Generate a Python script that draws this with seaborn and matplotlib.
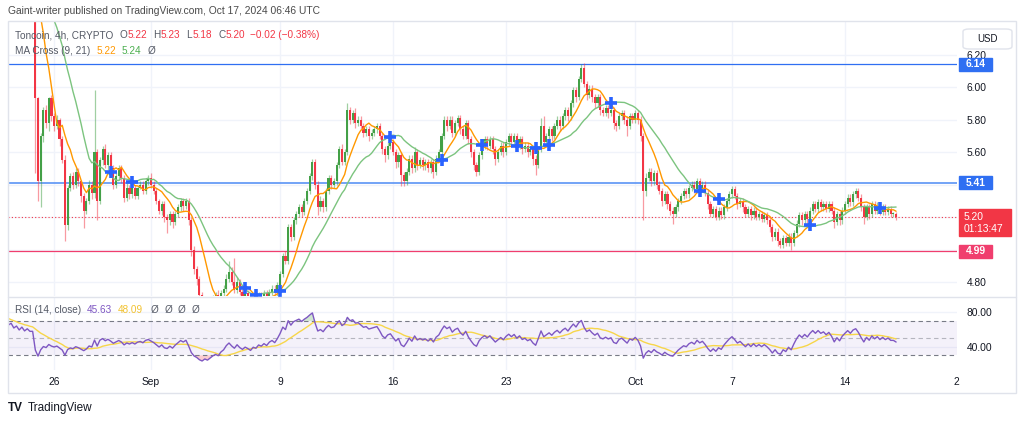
import numpy as np
import pandas as pd
import matplotlib
matplotlib.use("Agg")
import matplotlib.pyplot as plt
import matplotlib.transforms as mtransforms
from matplotlib.patches import Rectangle, FancyBboxPatch
import seaborn as sns

# ---- data: 4h candles (close, upper wick and lower wick in cents) ----
first_open = 6.52
# Aug 19 20:00 -> Aug 24 16:00 (above the visible range)
warm_close = [6.50, 6.62, 6.48, 6.60, 6.70, 6.56, 6.66, 6.78, 6.62, 6.72, 6.82, 6.66,
              6.76, 6.64, 6.80, 6.68, 6.82, 6.70, 6.84, 6.72, 6.80, 6.90, 6.76, 6.86,
              6.74, 6.88, 6.76, 6.86, 6.78, 6.78]
warm_up = [3, 2, 4, 2, 3, 2, 2, 3, 2, 3, 2, 4, 3, 2, 2, 3, 2, 3, 2, 3, 2, 2, 3, 2, 3, 2, 3, 2, 2, 3]
warm_dn = [2, 3, 2, 3, 2, 2, 3, 2, 2, 3, 2, 2, 3, 2, 3, 2, 2, 3, 2, 2, 3, 2, 2, 3, 2, 3, 2, 2, 3, 2]

# Aug 24 20:00 -> Aug 31 20:00
aug_close = [5.93,
             5.42, 5.70, 5.86, 5.78, 5.93, 5.82,
             5.76, 5.80, 5.68, 5.55, 5.15, 5.38,
             5.45, 5.40, 5.48, 5.42, 5.33, 5.24,
             5.30, 5.40, 5.35, 5.60, 5.30, 5.55,
             5.62, 5.52, 5.58, 5.50, 5.40, 5.45,
             5.50, 5.44, 5.32, 5.38, 5.34, 5.38,
             5.33, 5.38, 5.40, 5.36, 5.42, 5.44]
aug_up = [2,
          1, 2, 2, 3, 1, 2,
          2, 3, 1, 2, 3, 2,
          2, 3, 2, 2, 1, 2,
          2, 3, 2, 38, 2, 2,
          2, 3, 2, 2, 2, 3,
          2, 2, 2, 3, 2, 2,
          2, 1, 2, 2, 2, 2]
aug_dn = [46,
          12, 16, 4, 3, 5, 3,
          3, 2, 4, 2, 10, 3,
          2, 3, 2, 3, 4, 11,
          2, 2, 4, 3, 12, 2,
          3, 2, 3, 2, 3, 2,
          2, 3, 3, 2, 3, 2,
          2, 2, 1, 2, 2, 2]

sep_close = [5.40, 5.36, 5.30, 5.24, 5.28, 5.20,
             5.18, 5.22, 5.17, 5.22, 5.26, 5.30,
             5.27, 5.30, 5.18, 5.00, 4.88, 4.82,
             4.72, 4.66, 4.69, 4.64, 4.67, 4.70,
             4.72, 4.68, 4.73, 4.76, 4.82, 4.86,
             4.80, 4.75, 4.80, 4.74, 4.70, 4.73,
             4.70, 4.66, 4.70, 4.68, 4.72, 4.70,
             4.73, 4.70, 4.74, 4.76, 4.73, 4.78,
             4.85, 4.96, 4.93, 5.14, 5.08, 5.18,
             5.22, 5.26, 5.23, 5.30, 5.36, 5.45,
             5.54, 5.40, 5.26, 5.30, 5.26, 5.36,
             5.44, 5.40, 5.42, 5.52, 5.62, 5.54,
             5.60, 5.86, 5.80, 5.84, 5.78, 5.80,
             5.76, 5.72, 5.74, 5.70, 5.72, 5.74,
             5.76, 5.70, 5.62, 5.58, 5.64, 5.66,
             5.60, 5.54, 5.58, 5.46, 5.42, 5.48,
             5.56, 5.50, 5.60, 5.52, 5.55, 5.52,
             5.54, 5.50, 5.54, 5.48, 5.56, 5.60,
             5.70, 5.80, 5.76, 5.80, 5.72, 5.78,
             5.81, 5.74, 5.70, 5.78, 5.68, 5.60,
             5.52, 5.48, 5.58, 5.64, 5.68, 5.64,
             5.68, 5.62, 5.56, 5.60, 5.64, 5.60,
             5.66, 5.70, 5.66, 5.70, 5.64, 5.68,
             5.62, 5.64, 5.60, 5.62, 5.56, 5.52,
             5.62, 5.76, 5.66, 5.70, 5.74, 5.70,
             5.76, 5.80, 5.76, 5.82, 5.86, 5.82,
             5.90, 5.98, 5.94, 6.05, 6.12, 6.02,
             5.95, 5.99, 5.94, 5.90, 5.94, 5.86,
             5.84, 5.87, 5.84, 5.86, 5.78, 5.76,
             5.82, 5.84, 5.80, 5.76, 5.82, 5.80]
sep_up = [3, 2, 2, 1, 2, 2,
          2, 2, 2, 2, 2, 2,
          2, 2, 2, 2, 2, 2,
          2, 2, 2, 2, 2, 2,
          2, 3, 2, 2, 3, 7,
          3, 15, 3, 2, 2, 2,
          2, 2, 2, 2, 2, 2,
          2, 2, 2, 2, 2, 2,
          2, 2, 3, 2, 2, 2,
          2, 2, 2, 2, 2, 2,
          2, 2, 2, 3, 2, 2,
          2, 2, 2, 2, 2, 3,
          2, 4, 2, 2, 3, 2,
          2, 2, 2, 2, 2, 2,
          2, 2, 2, 2, 2, 2,
          2, 2, 2, 2, 2, 2,
          2, 2, 3, 2, 2, 2,
          2, 2, 2, 2, 2, 2,
          2, 2, 2, 2, 2, 2,
          2, 2, 2, 2, 2, 2,
          2, 2, 2, 2, 2, 2,
          2, 2, 2, 2, 2, 2,
          2, 2, 2, 2, 2, 2,
          2, 2, 2, 2, 2, 2,
          2, 5, 6, 2, 2, 2,
          2, 2, 2, 2, 2, 2,
          2, 2, 2, 2, 2, 3,
          2, 2, 2, 2, 2, 2,
          2, 2, 2, 2, 2, 2,
          2, 2, 2, 2, 2, 2]
sep_dn = [2, 2, 2, 2, 3, 3,
          8, 3, 4, 2, 2, 2,
          3, 2, 3, 4, 3, 4,
          3, 3, 3, 3, 2, 2,
          2, 2, 2, 3, 2, 2,
          2, 2, 2, 2, 2, 2,
          2, 2, 2, 2, 2, 2,
          2, 2, 2, 2, 2, 2,
          2, 2, 2, 2, 3, 2,
          2, 2, 3, 2, 2, 2,
          2, 3, 5, 2, 3, 2,
          2, 3, 2, 2, 2, 2,
          2, 2, 3, 2, 3, 2,
          2, 3, 2, 3, 2, 2,
          2, 2, 3, 4, 2, 2,
          2, 4, 3, 7, 3, 2,
          2, 3, 2, 3, 2, 3,
          3, 2, 3, 4, 2, 2,
          2, 2, 3, 2, 3, 2,
          2, 3, 2, 2, 3, 3,
          3, 3, 2, 2, 2, 3,
          2, 3, 4, 2, 2, 3,
          2, 2, 3, 2, 3, 2,
          3, 2, 3, 2, 4, 6,
          2, 2, 3, 2, 2, 3,
          2, 2, 3, 2, 2, 3,
          2, 2, 3, 2, 2, 2,
          3, 2, 3, 3, 2, 3,
          2, 2, 3, 2, 4, 3,
          2, 2, 3, 6, 2, 2]

# Oct 1 00:00 -> Oct 17 04:00
oct_close = [5.84, 5.80, 5.70, 5.36, 5.44, 5.48,
             5.42, 5.47, 5.40, 5.36, 5.30, 5.34,
             5.28, 5.24, 5.22, 5.26, 5.30, 5.33,
             5.36, 5.34, 5.38, 5.40, 5.37, 5.42,
             5.38, 5.40, 5.35, 5.28, 5.22, 5.25,
             5.20, 5.24, 5.21, 5.26, 5.30, 5.34,
             5.37, 5.33, 5.28, 5.30, 5.26, 5.22,
             5.25, 5.21, 5.24, 5.20, 5.22, 5.19,
             5.21, 5.18, 5.14, 5.08, 5.11, 5.05,
             5.03, 5.07, 5.04, 5.08, 5.04, 5.10,
             5.16, 5.21, 5.18, 5.22, 5.19, 5.24,
             5.28, 5.25, 5.29, 5.26, 5.28, 5.25,
             5.28, 5.24, 5.17, 5.22, 5.18, 5.24,
             5.28, 5.32, 5.29, 5.34, 5.36, 5.32,
             5.26, 5.20, 5.26, 5.22, 5.28, 5.24,
             5.27, 5.23, 5.26, 5.23, 5.25, 5.22,
             5.22, 5.20]
oct_up = [2, 2, 2, 2, 3, 2,
          2, 2, 2, 2, 2, 2,
          2, 2, 2, 2, 2, 2,
          2, 2, 2, 2, 2, 2,
          2, 2, 2, 2, 2, 2,
          2, 2, 2, 2, 2, 2,
          2, 2, 2, 2, 2, 2,
          2, 2, 2, 2, 2, 2,
          2, 2, 2, 2, 2, 2,
          2, 2, 2, 2, 2, 2,
          2, 2, 2, 2, 2, 2,
          2, 2, 2, 2, 2, 2,
          2, 2, 2, 2, 2, 2,
          2, 2, 2, 2, 2, 2,
          2, 2, 2, 2, 2, 2,
          2, 2, 2, 2, 2, 2,
          1, 1]
oct_dn = [2, 3, 3, 18, 3, 2,
          3, 2, 3, 2, 3, 2,
          3, 3, 6, 2, 2, 2,
          2, 2, 2, 2, 2, 2,
          2, 2, 2, 3, 2, 2,
          2, 2, 2, 2, 2, 2,
          2, 2, 3, 2, 3, 2,
          2, 3, 2, 2, 2, 2,
          2, 2, 3, 3, 2, 3,
          2, 2, 2, 2, 4, 2,
          2, 2, 3, 2, 3, 2,
          2, 2, 2, 2, 2, 2,
          2, 2, 4, 2, 3, 2,
          2, 2, 2, 2, 2, 2,
          2, 4, 2, 3, 2, 2,
          2, 2, 2, 2, 2, 2,
          2, 2]

levels = [6.14, 5.41, 4.99]
last_price = 5.20
price_ticks = [4.80, 5.00, 5.20, 5.40, 5.60, 5.80, 6.00, 6.20]
price_tick_labels = ["4.80", "", "", "", "5.60", "5.80", "6.00", "6.20"]
rsi_ticks = [40, 80]
date_ticks = [-6, 0, 8, 15, 22, 30, 36, 43]
date_labels = ["26", "Sep", "9", "16", "23", "Oct", "7", "14"]

# ---- build the frame ----
close = np.array(warm_close + aug_close + sep_close + oct_close)
up = np.array(warm_up + aug_up + sep_up + oct_up) / 100
dn = np.array(warm_dn + aug_dn + sep_dn + oct_dn) / 100
opn = np.r_[first_open, close[:-1]]
times = pd.date_range("2024-08-19 20:00", periods=len(close), freq="4h")
df = pd.DataFrame({
    "x": (times - pd.Timestamp("2024-09-01")) / pd.Timedelta(days=1),
    "o": opn, "c": close,
    "h": np.maximum(opn, close) + up,
    "l": np.minimum(opn, close) - dn,
})
df["ma9"] = df.c.rolling(9).mean()
df["ma21"] = df.c.rolling(21).mean()
delta = df.c.diff()
gain = delta.clip(lower=0).ewm(alpha=1 / 14, adjust=False).mean()
loss = (-delta.clip(upper=0)).ewm(alpha=1 / 14, adjust=False).mean()
df["rsi"] = 100 - 100 / (1 + gain / loss)
df["rsi_ma"] = df.rsi.rolling(14).mean()

UP, DOWN = "#43a047", "#f23645"
TXT = "#131722"
GREY = "#555a66"
W, H = 1024, 424

sns.set_style("white")
plt.rcParams["font.family"] = ["Liberation Sans", "DejaVu Sans"]

fig = plt.figure(figsize=(10.24, 4.24), dpi=100)
renderer = fig.canvas.get_renderer()


def box(l, t, r, b):
    return [l / W, 1 - b / H, (r - l) / W, (b - t) / H]


def ftext(x, y, s, **kw):
    kw.setdefault("fontsize", 7.2)
    kw.setdefault("color", TXT)
    return fig.text(x / W, 1 - y / H, s, va="center", ha=kw.pop("ha", "left"), **kw)


def row(x, y, parts):
    # write text pieces one after another, each (text, colour, gap after)
    for s, col, gap in parts:
        t = ftext(x, y, s, color=col)
        x = t.get_window_extent(renderer).x1 + gap


ax = fig.add_axes(box(8, 22, 957, 296))
ax2 = fig.add_axes(box(8, 297, 957, 370), sharex=ax)
XL = (-8.86, 49.94)

# ---- price pane ----
isup = df.c >= df.o
cols = np.where(isup, UP, DOWN)
ax.vlines(df.x, df.l, df.h, colors=cols, lw=0.9, alpha=0.5, zorder=2)
ax.bar(df.x, np.maximum((df.c - df.o).abs(), 0.005), bottom=np.minimum(df.o, df.c),
       width=0.13, color=cols, lw=0, zorder=3)
sns.lineplot(data=df, x="x", y="ma9", ax=ax, color="#ff9800", lw=1.0, zorder=4)
sns.lineplot(data=df, x="x", y="ma21", ax=ax, color="#7cc47f", lw=1.0, zorder=4)

sgn = np.sign(df.ma9 - df.ma21)
cr = df[(sgn != sgn.shift()) & sgn.shift().notna() & df.ma21.notna()]
ax.plot(cr.x, (cr.ma9 + cr.ma21) / 2, ls="none", marker="+", ms=8, mew=2.6,
        color="#2962ff", zorder=5)

ax.axhline(levels[0], color="#2f6ff2", lw=0.9, zorder=1)
ax.axhline(levels[1], color="#5a93f5", lw=1.2, zorder=1)
ax.axhline(levels[2], color="#f03e6e", lw=0.9, zorder=1)
ax.axhline(last_price, color=DOWN, lw=0.8, ls=(0, (1, 2)), zorder=1)

ax.set_xlim(*XL)
ax.set_ylim(4.714, 6.40)
ax.set_yticks(price_ticks)
ax.set_yticklabels(price_tick_labels)
ax.yaxis.tick_right()
ax.tick_params(axis="y", length=0, pad=7, labelsize=7.4, labelcolor=TXT)
ax.set_xticks(date_ticks)
ax.tick_params(axis="x", length=0, labelbottom=False)
ax.grid(True, color="#f0f3fa", lw=1)
ax.set_xlabel("")
ax.set_ylabel("")
for s in ax.spines.values():
    s.set_visible(False)

# ---- RSI pane ----
ax2.axhspan(30, 70, color="#7e57c2", alpha=0.08, lw=0)
for v, a in [(70, 1), (50, 0.5), (30, 1)]:
    ax2.axhline(v, color="#787b86", lw=0.8, ls=(0, (4, 3)), alpha=a)
ax2.fill_between(df.x, df.rsi, 30, where=df.rsi < 30, interpolate=True,
                 color=DOWN, alpha=0.25, lw=0)
ax2.fill_between(df.x, df.rsi, 70, where=df.rsi > 70, interpolate=True,
                 color=UP, alpha=0.25, lw=0)
sns.lineplot(data=df, x="x", y="rsi_ma", ax=ax2, color="#f7d64a", lw=1.0)
sns.lineplot(data=df, x="x", y="rsi", ax=ax2, color="#7e57c2", lw=1.0)
ax2.set_xlim(*XL)
ax2.set_ylim(12.9, 97.8)
ax2.set_yticks(rsi_ticks)
ax2.yaxis.tick_right()
ax2.yaxis.set_major_formatter(matplotlib.ticker.FormatStrFormatter("%.2f"))
ax2.tick_params(axis="y", length=0, pad=7, labelsize=7.4, labelcolor=TXT)
ax2.set_xticks(date_ticks)
ax2.set_xticklabels(date_labels)
ax2.tick_params(axis="x", length=0, pad=5, labelsize=7.4, labelcolor=TXT)
ax2.grid(True, color="#f0f3fa", lw=1)
ax2.set_xlabel("")
ax2.set_ylabel("")
for s in ax2.spines.values():
    s.set_visible(False)
ftext(956, 382, "2", ha="center", fontsize=7.4)

# ---- frame lines ----
fig.add_artist(Rectangle((8 / W, 1 - 393 / H), 1008 / W, 372 / H, transform=fig.transFigure,
                         fill=False, ec="#e0e3eb", lw=1))
fig.add_artist(plt.Line2D([8 / W, 1016 / W], [1 - 296.5 / H] * 2, transform=fig.transFigure,
                          color="#e0e3eb", lw=1))

# ---- price labels on the axis ----
bt = mtransforms.blended_transform_factory(ax.transAxes, ax.transData)
x0 = (959 - 8) / 949
ppx = 162.5
for val, col in [(levels[0], "#2f6ff2"), (levels[1], "#2f6ff2"), (levels[2], "#f03e6e")]:
    ax.add_patch(Rectangle((x0, val - 6.5 / ppx), 33 / 949, 13 / ppx, transform=bt,
                           color=col, clip_on=False, zorder=10))
    ax.text(x0 + 16.5 / 949, val, f"{val:.2f}", transform=bt, ha="center", va="center",
            color="white", fontsize=7.4, fontweight="bold", clip_on=False, zorder=11)
ax.add_patch(Rectangle((x0, last_price - 19 / ppx), 52 / 949, 27 / ppx, transform=bt,
                       color=DOWN, clip_on=False, zorder=10))
ax.text(x0 + 5 / 949, last_price, f"{last_price:.2f}", transform=bt, ha="left", va="center",
        color="white", fontsize=7.4, clip_on=False, zorder=11)
ax.text(x0 + 5 / 949, last_price - 12 / ppx, "01:13:47", transform=bt, ha="left",
        va="center", color="white", fontsize=7.4, clip_on=False, zorder=11)

fig.add_artist(FancyBboxPatch((963 / W, 1 - 49 / H), 49 / W, 20 / H,
                              boxstyle="round,pad=0,rounding_size=0.006",
                              transform=fig.transFigure, fc="white", ec="#e0e3eb", lw=1))
ftext(987, 39, "USD", ha="center", fontsize=7)

# ---- legends ----
ftext(8, 11, "Gaint-writer published on TradingView.com, Oct 17, 2024 06:46 UTC",
      color="#4a4a4a", fontsize=7.4)
row(15, 35, [("Toncoin, 4h, CRYPTO", GREY, 6), ("O", GREY, 0.5), ("5.22", DOWN, 6),
             ("H", GREY, 0.5), ("5.23", DOWN, 6), ("L", GREY, 0.5), ("5.18", DOWN, 6),
             ("C", GREY, 0.5), ("5.20", DOWN, 5), ("\u22120.02 (\u22120.38%)", DOWN, 0)])
row(15, 51, [("MA Cross (9, 21)", GREY, 6), ("5.22", "#ff9800", 6),
             ("5.24", "#4caf50", 6), ("\u00d8", GREY, 0)])
row(15, 310, [("RSI (14, close)", GREY, 6), ("45.63", "#7e57c2", 5),
              ("48.09", "#f2c230", 8), ("\u00d8", GREY, 6), ("\u00d8", GREY, 6),
              ("\u00d8", GREY, 6), ("\u00d8", GREY, 0)])

# ---- footer ----
ftext(8, 408, "TV", fontsize=8.5, fontweight="heavy")
ftext(28, 408, "TradingView", fontsize=8.5)

fig.savefig("out.png", dpi=100, facecolor="white")
